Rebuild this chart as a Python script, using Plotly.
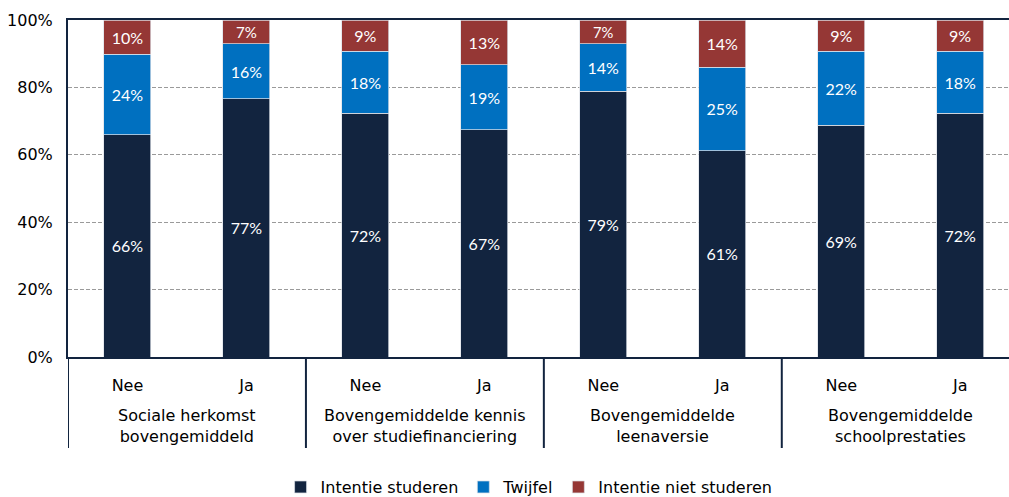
import plotly.graph_objects as go

# Groups and sub-categories
groups = [
    "Sociale herkomst<br>bovengemiddeld",
    "Bovengemiddelde kennis<br>over studiefinanciering",
    "Bovengemiddelde<br>leenaversie",
    "Bovengemiddelde<br>schoolprestaties",
]
subcats = ["Nee", "Ja", "Nee", "Ja", "Nee", "Ja", "Nee", "Ja"]

# Shares per bar (percent)
intentie_studeren = [65.9, 76.6, 72.4, 67.4, 78.8, 61.2, 68.8, 72.4]
twijfel = [24.0, 16.3, 18.3, 19.3, 14.2, 24.8, 22.0, 18.3]
intentie_niet = [10.1, 7.1, 9.3, 13.3, 7.0, 14.0, 9.2, 9.3]

series_names = ["Intentie studeren", "Twijfel", "Intentie niet studeren"]
series_colors = ["#12243F", "#0070C0", "#953735"]

FONT = "DejaVu Sans"
LABEL_FONT = "Lato"
NAVY = "#12243F"

x = list(range(len(subcats)))

fig = go.Figure()
for name, vals, col in zip(series_names, [intentie_studeren, twijfel, intentie_niet], series_colors):
    fig.add_trace(go.Bar(
        x=x, y=vals, name=name,
        marker=dict(color=col, line=dict(color="rgba(220,225,232,0.9)", width=0.8)),
        text=[f"{v:.0f}%" for v in vals],
        texttemplate="%{text}",
        textposition="inside",
        insidetextanchor="middle",
        textangle=0,
        textfont=dict(color="white", size=16, family=LABEL_FONT),
        hoverinfo="skip",
    ))

# Group labels under the sub-category ticks
for i, g in enumerate(groups):
    fig.add_annotation(
        x=2 * i + 0.5, xref="x", y=-0.14, yref="paper",
        text=g, showarrow=False, yanchor="top", xanchor="center",
        font=dict(family=FONT, size=16, color="black"),
    )

# Group dividers below the axis
for b in [-0.5, 1.5, 3.5, 5.5]:
    fig.add_shape(
        type="line", xref="x", yref="paper",
        x0=b, x1=b, y0=0, y1=-0.27,
        line=dict(color=NAVY, width=2),
    )

fig.update_layout(
    barmode="stack",
    bargap=0.605,
    width=1009, height=497,
    margin=dict(l=68, r=0, t=20, b=140, autoexpand=False),
    paper_bgcolor="white",
    plot_bgcolor="white",
    font=dict(family=FONT, size=16, color="black"),
    showlegend=True,
    legend=dict(
        orientation="h", x=0.49, xanchor="center",
        yref="container", y=0.02, yanchor="middle",
        font=dict(family=FONT, size=16, color="black"),
        itemwidth=30, traceorder="normal",
    ),
    xaxis=dict(
        range=[-0.5, 7.41],
        tickmode="array", tickvals=x, ticktext=subcats,
        showgrid=False, zeroline=False,
        showline=True, linecolor=NAVY, linewidth=2, mirror=True,
        ticks="", ticklabelstandoff=13,
        tickfont=dict(family=FONT, size=16, color="black"),
    ),
    yaxis=dict(
        range=[0, 100], tickmode="linear", tick0=0, dtick=20,
        ticksuffix="%",
        showgrid=True, gridcolor="#9a9a9a", gridwidth=1, griddash="4px,2px",
        zeroline=False,
        showline=True, linecolor=NAVY, linewidth=2,
        ticks="", ticklabelstandoff=10,
        tickfont=dict(family=FONT, size=16, color="black"),
    ),
)

fig.write_html("out.html")
